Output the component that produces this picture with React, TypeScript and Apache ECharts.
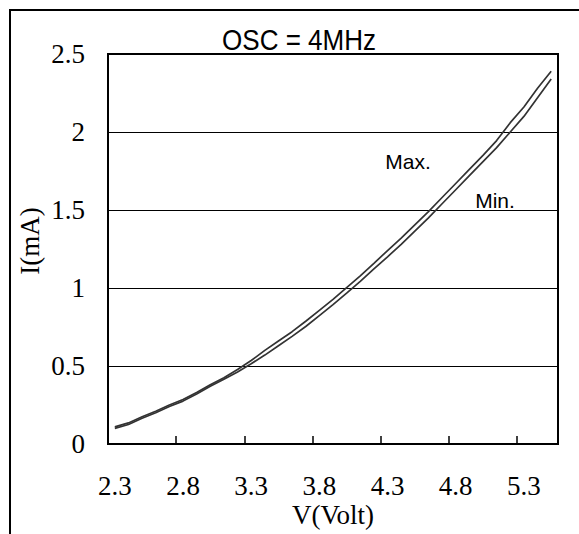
import React, { useEffect, useRef } from 'react';
import * as echarts from 'echarts';

const voltage = [
  '2.3', '2.4', '2.5', '2.6', '2.7', '2.8', '2.9', '3.0', '3.1', '3.2', '3.3',
  '3.4', '3.5', '3.6', '3.7', '3.8', '3.9', '4.0', '4.1', '4.2', '4.3',
  '4.4', '4.5', '4.6', '4.7', '4.8', '4.9', '5.0', '5.1', '5.2', '5.3',
  '5.4', '5.5',
];

const maxCurrent = [
  0.11, 0.135, 0.175, 0.21, 0.25, 0.285, 0.33, 0.38, 0.425, 0.478, 0.535,
  0.6, 0.66, 0.72, 0.787, 0.857, 0.927, 1.003, 1.078, 1.158, 1.24,
  1.32, 1.405, 1.49, 1.58, 1.67, 1.76, 1.85, 1.945, 2.06, 2.16,
  2.28, 2.39,
];

const minCurrent = [
  0.1, 0.125, 0.165, 0.2, 0.24, 0.275, 0.32, 0.37, 0.415, 0.462, 0.515,
  0.57, 0.63, 0.69, 0.753, 0.823, 0.893, 0.967, 1.042, 1.122, 1.2,
  1.28, 1.365, 1.45, 1.54, 1.63, 1.72, 1.81, 1.9, 2.0, 2.1,
  2.22, 2.34,
];

const yMin = 0;
const yMax = 2.5;
const yStep = 0.5;
const labelEvery = 5;

const titleText = 'OSC = 4MHz';
const xName = 'V(Volt)';
const yName = 'I(mA)';
const maxLabel = 'Max.';
const minLabel = 'Min.';

const serif = '"Liberation Serif", "Times New Roman", serif';
const sans = '"Liberation Sans", Arial, sans-serif';

export default function App() {
  const ref = useRef<HTMLDivElement>(null);

  useEffect(() => {
    if (!ref.current) return;
    const chart = echarts.init(ref.current, null, { renderer: 'svg' });
    const lastLabelIdx = Math.floor((voltage.length - 1) / labelEvery) * labelEvery;
    chart.setOption({
      animation: false,
      backgroundColor: '#ffffff',
      grid: {
        left: 108,
        top: 54,
        right: 21,
        bottom: 90,
        show: true,
        borderColor: '#000',
        borderWidth: 2,
        backgroundColor: 'transparent',
      },
      xAxis: {
        type: 'category',
        data: voltage,
        boundaryGap: true,
        axisLine: { show: true, lineStyle: { color: '#000', width: 2 } },
        axisTick: {
          show: true,
          inside: true,
          length: 8,
          interval: (i: number) => i % labelEvery === 0 && i <= lastLabelIdx,
          lineStyle: { color: '#000', width: 1.5 },
        },
        axisLabel: {
          interval: (i: number) => i % labelEvery === 0,
          margin: 28,
          color: '#000',
          fontFamily: serif,
          fontSize: 27,
        },
        splitLine: { show: false },
      },
      yAxis: {
        type: 'value',
        min: yMin,
        max: yMax,
        interval: yStep,
        axisLine: { show: true, lineStyle: { color: '#000', width: 2 } },
        axisTick: { show: false },
        axisLabel: {
          margin: 23,
          color: '#000',
          fontFamily: serif,
          fontSize: 27,
        },
        splitLine: { show: true, lineStyle: { color: '#000', width: 1.2 } },
      },
      series: [
        {
          name: maxLabel,
          type: 'line',
          data: maxCurrent,
          symbol: 'none',
          lineStyle: { color: '#333', width: 1.7 },
        },
        {
          name: minLabel,
          type: 'line',
          data: minCurrent,
          symbol: 'none',
          lineStyle: { color: '#333', width: 1.7 },
        },
      ],
      graphic: [
        {
          type: 'rect',
          silent: true,
          shape: { x: 10, y: 10, width: 590, height: 560 },
          style: { fill: 'none', stroke: '#000', lineWidth: 2 },
        },
        {
          type: 'text',
          x: 299,
          y: 40,
          scaleY: 1.1,
          style: {
            text: titleText,
            fontFamily: sans,
            fontSize: 26,
            fill: '#000',
            align: 'center',
            verticalAlign: 'middle',
          },
        },
        {
          type: 'text',
          x: 408,
          y: 161,
          z: 10,
          style: {
            text: maxLabel,
            fontFamily: sans,
            fontSize: 21,
            fill: '#000',
            align: 'center',
            verticalAlign: 'middle',
          },
        },
        {
          type: 'text',
          x: 495,
          y: 200,
          z: 10,
          style: {
            text: minLabel,
            fontFamily: sans,
            fontSize: 21,
            fill: '#000',
            align: 'center',
            verticalAlign: 'middle',
          },
        },
        {
          type: 'text',
          x: 30,
          y: 241,
          rotation: Math.PI / 2,
          style: {
            text: yName,
            fontFamily: serif,
            fontSize: 27,
            fill: '#000',
            align: 'center',
            verticalAlign: 'middle',
          },
        },
        {
          type: 'text',
          x: 333,
          y: 515,
          style: {
            text: xName,
            fontFamily: serif,
            fontSize: 27,
            fill: '#000',
            align: 'center',
            verticalAlign: 'middle',
          },
        },
      ],
    });
    return () => chart.dispose();
  }, []);

  return (
    <div
      ref={ref}
      style={{ position: 'fixed', left: 0, top: 0, width: 579, height: 534, background: '#fff' }}
    />
  );
}
